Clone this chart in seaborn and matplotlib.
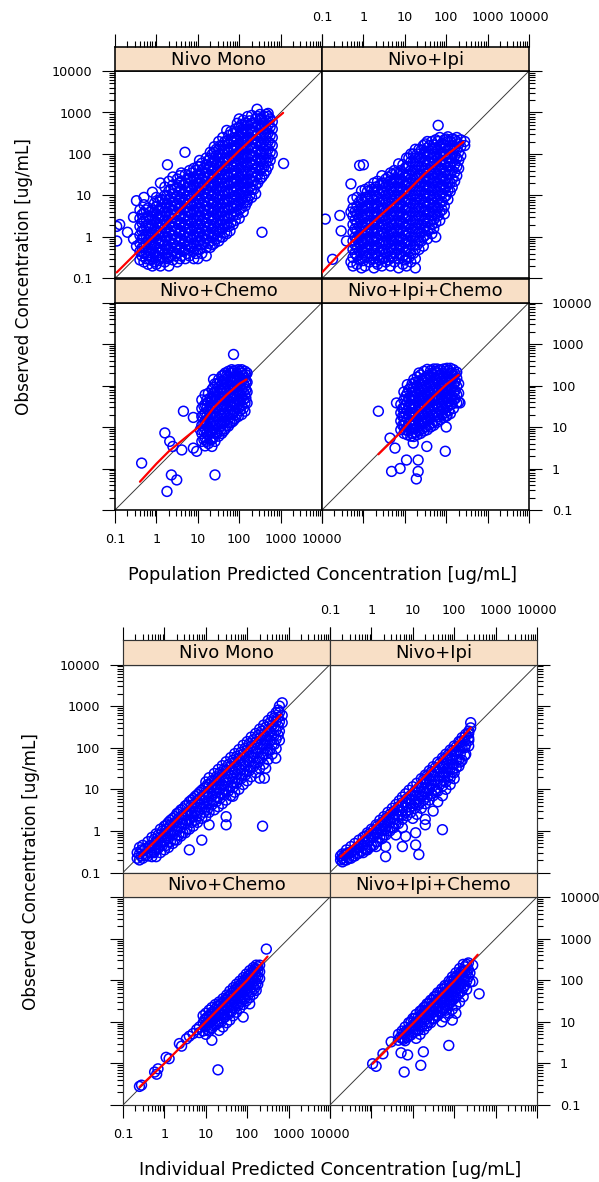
import numpy as np
import pandas as pd
import matplotlib
matplotlib.use("Agg")
import matplotlib.pyplot as plt
import matplotlib.ticker as mticker
import seaborn as sns

# ---------------- data ----------------
TICK_VALUES = [0.1, 1, 10, 100, 1000, 10000]
TICK_LABELS = ["0.1", "1", "10", "100", "1000", "10000"]
PANEL_TITLES = ["Nivo Mono", "Nivo+Ipi", "Nivo+Chemo", "Nivo+Ipi+Chemo"]
XLABELS = ["Population Predicted Concentration [ug/mL]",
           "Individual Predicted Concentration [ug/mL]"]
YLABEL = "Observed Concentration [ug/mL]"
IDENTITY = [0.1, 10000]

# each entry: (predicted, [observed values at that predicted value])
POP_MONO = [
    (0.11, [0.8, 1.8]), (0.13, [2.0]), (0.2, [1.3]), (0.28, [3.0, 0.9]), (0.33, [7.5, 0.6]),
    (0.4, [0.28, 0.45, 0.7, 1.1, 1.8, 2.8, 4.5]),
    (0.5, [0.25, 0.4, 0.6, 1.0, 1.5, 2.4, 3.8, 6.0, 9.0]),
    (0.63, [0.22, 0.35, 0.55, 0.85, 1.3, 2.0, 3.2, 5.0]),
    (0.8, [0.2, 0.3, 0.5, 0.75, 1.2, 1.9, 3.0, 4.5, 12]),
    (1.0, [0.22, 0.35, 0.55, 0.9, 1.4, 2.2, 3.5, 5.5, 9.0]),
    (1.25, [0.2, 0.3, 0.5, 0.8, 1.3, 2.0, 3.2, 5.0, 8.0, 20]),
    (1.6, [0.25, 0.4, 0.65, 1.0, 1.6, 2.5, 4.0, 6.5, 10, 16]),
    (1.85, [0.3, 0.5, 55]),
    (2.0, [0.2, 0.32, 0.5, 0.8, 1.3, 2.0, 3.2, 5.0, 8.0, 13, 22]),
    (2.5, [0.28, 0.45, 0.7, 1.1, 1.8, 2.8, 4.5, 7.0, 11, 18, 28]),
    (3.2, [0.25, 0.4, 0.6, 1.0, 1.6, 2.5, 4.0, 6.5, 10, 16, 25]),
    (3.7, [0.3, 30]),
    (4.0, [0.35, 0.55, 0.9, 1.4, 2.2, 3.5, 5.5, 9.0, 14, 22, 35]),
    (4.9, [110]),
    (5.0, [0.3, 0.5, 0.8, 1.3, 2.0, 3.2, 5.0, 8.0, 13, 20, 32]),
    (6.3, [0.35, 0.6, 1.0, 1.6, 2.5, 4.0, 6.3, 10, 16, 25, 40]),
    (8.0, [0.3, 0.45, 0.7, 1.1, 1.8, 2.8, 4.5, 7.0, 11, 18, 28, 45]),
    (10, [0.3, 0.5, 0.8, 1.3, 2.0, 3.2, 5.0, 8.0, 13, 20, 32, 50]),
    (11, [70]),
    (12.5, [0.4, 0.65, 1.0, 1.6, 2.5, 4.0, 6.5, 10, 16, 25, 40, 60]),
    (16, [0.35, 0.55, 0.9, 1.4, 2.2, 3.5, 5.5, 9.0, 14, 22, 35, 55, 80]),
    (20, [0.56, 0.8, 1.3, 2.0, 3.2, 5.0, 8.0, 13, 20, 32, 50, 80, 110]),
    (25, [0.7, 1.1, 1.8, 2.8, 4.5, 7.0, 11, 18, 28, 45, 70, 110, 150]),
    (32, [0.8, 1.3, 2.0, 3.2, 5.0, 8.0, 13, 20, 32, 50, 80, 130, 200]),
    (40, [1.0, 1.6, 2.5, 4.0, 6.5, 10, 16, 25, 40, 65, 100, 160, 250]),
    (50, [1.2, 2.0, 3.2, 5.0, 8.0, 13, 20, 32, 50, 80, 130, 200, 370]),
    (60, [1.4]),
    (63, [2.2, 3.5, 5.5, 9.0, 14, 22, 35, 55, 90, 140, 220, 350]),
    (80, [2.5, 4.0, 6.5, 10, 16, 25, 40, 65, 100, 160, 250, 400]),
    (100, [2.8, 4.5, 7.0, 11, 18, 28, 45, 70, 110, 180, 280, 450, 700]),
    (125, [4.0, 6.5, 10, 16, 25, 40, 65, 100, 160, 250, 400, 650]),
    (155, [6.9]),
    (160, [8.0, 13, 20, 32, 50, 80, 130, 200, 320, 500, 800]),
    (200, [9.0, 14, 22, 35, 55, 90, 140, 220, 350, 550, 850]),
    (250, [11, 18, 28, 45, 70, 110, 180, 280, 450, 700]),
    (270, [1200]),
    (320, [25, 40, 65, 100, 160, 250, 400, 650, 900]),
    (355, [1.3]),
    (400, [33, 50, 80, 130, 200, 320, 500, 800]),
    (500, [50, 80, 130, 200, 320, 500, 800, 950]),
    (630, [100, 160, 250, 400, 600]),
    (1180, [59]),
]
POP_MONO_CORE = [
    (0.45, [0.35, 0.55, 0.9, 1.4, 2.2, 3.5]),
    (0.56, [0.3, 0.45, 0.7, 1.1, 1.8, 2.8, 4.5]),
    (0.71, [0.28, 0.42, 0.65, 1.0, 1.6, 2.6, 4.0]),
    (0.9, [0.25, 0.4, 0.62, 1.0, 1.6, 2.5, 4.0, 6.5]),
    (1.12, [0.27, 0.42, 0.7, 1.1, 1.75, 2.8, 4.4, 7.0]),
    (1.4, [0.32, 0.5, 0.8, 1.25, 2.0, 3.2, 5.0, 8.0]),
    (1.8, [0.4, 0.62, 1.0, 1.6, 2.5, 4.0, 6.3, 10]),
    (2.24, [0.36, 0.56, 0.9, 1.4, 2.2, 3.6, 5.6, 9.0, 14]),
    (2.8, [0.35, 0.55, 0.88, 1.4, 2.2, 3.5, 5.6, 9.0, 14]),
    (3.5, [0.5, 0.8, 1.25, 2.0, 3.2, 5.0, 8.0, 12.5, 20]),
    (4.5, [0.45, 0.7, 1.1, 1.8, 2.8, 4.5, 7.0, 11, 18]),
    (5.6, [0.4, 0.65, 1.0, 1.6, 2.6, 4.1, 6.5, 10, 16, 26]),
    (7.1, [0.55, 0.88, 1.4, 2.2, 3.5, 5.6, 9.0, 14, 22, 35]),
    (9.0, [0.4, 0.62, 1.0, 1.6, 2.5, 4.0, 6.3, 10, 16, 25, 40]),
    (11.2, [0.5, 0.8, 1.25, 2.0, 3.2, 5.0, 8.0, 12.5, 20, 32, 50]),
    (14, [0.7, 1.1, 1.8, 2.8, 4.5, 7.0, 11, 18, 28, 45]),
    (18, [0.7, 1.1, 1.75, 2.8, 4.4, 7.0, 11, 17.5, 28, 44, 70]),
    (22.4, [0.65, 1.0, 1.6, 2.6, 4.1, 6.5, 10, 16, 26, 41, 65, 100]),
    (28, [0.9, 1.4, 2.2, 3.6, 5.6, 9.0, 14, 22, 36, 56, 90, 130]),
    (35, [1.0, 1.6, 2.5, 4.0, 6.3, 10, 16, 25, 40, 63, 100, 160]),
    (45, [1.3, 2.0, 3.2, 5.0, 8.0, 12.5, 20, 32, 50, 80, 125, 200]),
    (56, [1.8, 2.8, 4.5, 7.0, 11, 18, 28, 45, 70, 110, 180, 280]),
    (71, [2.0, 3.2, 5.0, 8.0, 12.5, 20, 32, 50, 80, 125, 200, 320]),
    (90, [3.5, 5.6, 9.0, 14, 22, 35, 56, 90, 140, 220, 350, 550]),
    (112, [5.0, 8.0, 12.5, 20, 32, 50, 80, 125, 200, 320, 500]),
    (140, [5.6, 9.0, 14, 22, 36, 56, 90, 140, 220, 360, 560]),
    (180, [10, 16, 25, 40, 63, 100, 160, 250, 400, 630]),
    (224, [14, 22, 36, 56, 90, 140, 220, 360, 560]),
    (280, [20, 32, 50, 80, 125, 200, 320, 500, 800]),
    (355, [28, 45, 70, 110, 180, 280, 450, 700]),
    (450, [40, 63, 100, 160, 250, 400, 630, 900]),
    (560, [70, 110, 180, 280, 450, 700]),
]
POP_MONO_FIT_X = [0.11, 0.3, 1, 3, 10, 30, 100, 300, 1000, 1150]
POP_MONO_FIT_Y = [0.14, 0.38, 1.2, 3.6, 12, 37, 120, 330, 870, 980]

POP_IPI = [
    (0.12, [2.7]), (0.18, [0.29]), (0.27, [3.3]), (0.29, [1.4]), (0.39, [0.8]),
    (0.5, [0.25, 4.0, 19]),
    (0.56, [0.2, 0.32, 0.5, 0.8, 1.3, 2.0, 3.2, 5.0, 8.0]),
    (0.7, [0.22, 0.35, 0.55, 0.9, 1.4, 2.2, 3.5, 5.5, 9.0]),
    (0.81, [53]),
    (0.9, [0.18, 0.3, 0.5, 0.8, 1.3, 2.0, 3.2, 5.0, 8.0, 13]),
    (1.0, [55]),
    (1.1, [0.2, 0.35, 0.55, 0.9, 1.4, 2.2, 3.5, 5.5, 9.0, 14]),
    (1.4, [0.25, 0.4, 0.65, 1.0, 1.6, 2.5, 4.0, 6.5, 10, 16]),
    (1.8, [0.18, 0.3, 0.5, 0.8, 1.3, 2.0, 3.2, 5.0, 8.0, 13, 20]),
    (2.2, [0.22, 0.35, 0.55, 0.9, 1.4, 2.2, 3.5, 5.5, 9.0, 14, 22]),
    (2.8, [0.2, 0.3, 0.5, 0.8, 1.3, 2.0, 3.2, 5.0, 8.0, 13, 20, 30]),
    (3.5, [0.25, 0.4, 0.65, 1.0, 1.6, 2.5, 4.0, 6.5, 10, 16, 25]),
    (4.5, [0.2, 0.35, 0.55, 0.9, 1.4, 2.2, 3.5, 5.5, 9.0, 14, 22, 35]),
    (5.6, [0.25, 0.4, 0.65, 1.0, 1.6, 2.5, 4.0, 6.5, 10, 16, 25, 40]),
    (7.1, [0.18, 0.3, 0.5, 0.8, 1.3, 2.0, 3.2, 5.0, 8.0, 13, 20, 32, 58]),
    (9.0, [0.22, 0.35, 0.55, 0.9, 1.4, 2.2, 3.5, 5.5, 9.0, 14, 22, 35, 55]),
    (11, [0.2, 0.3, 0.5, 0.8, 1.3, 2.0, 3.2, 5.0, 8.0, 13, 20, 32, 50, 80]),
    (14, [0.25, 0.4, 0.65, 1.0, 1.6, 2.5, 4.0, 6.5, 10, 16, 25, 40, 65, 100]),
    (18, [0.18, 0.3, 0.5, 0.8, 1.3, 2.0, 3.2, 5.0, 8.0, 13, 20, 32, 50, 80, 130]),
    (22, [0.5, 0.8, 1.3, 2.0, 3.2, 5.0, 8.0, 13, 20, 32, 50, 80, 130]),
    (28, [0.6, 1.0, 1.6, 2.5, 4.0, 6.5, 10, 16, 25, 40, 65, 100, 160]),
    (35, [0.9, 1.4, 2.2, 3.5, 5.5, 9.0, 14, 22, 35, 55, 90, 140, 200]),
    (45, [1.2, 2.0, 3.2, 5.0, 8.0, 13, 20, 32, 50, 80, 130, 200]),
    (56, [1.0, 2.2, 3.5, 5.5, 9.0, 14, 22, 35, 55, 90, 140, 220]),
    (64, [490]),
    (70, [2.5, 4.0, 6.5, 10, 16, 25, 40, 65, 100, 160, 250]),
    (90, [3.6, 5.5, 9.0, 14, 22, 35, 55, 90, 140, 220]),
    (110, [8.0, 13, 20, 32, 50, 80, 130, 200, 260]),
    (140, [16, 25, 40, 65, 100, 160, 230]),
    (180, [30, 50, 80, 130, 200, 250]),
    (225, [90, 150, 220]),
    (280, [160, 200]),
]
POP_IPI_CORE = [
    (0.63, [0.4, 0.65, 1.0, 1.6, 2.6, 4.1]),
    (0.8, [0.28, 0.45, 0.7, 1.1, 1.8, 2.8, 4.5, 7.0]),
    (1.0, [0.27, 0.42, 0.7, 1.1, 1.75, 2.8, 4.4, 7.0]),
    (1.25, [0.32, 0.5, 0.8, 1.25, 2.0, 3.2, 5.0, 8.0, 12.5]),
    (1.6, [0.36, 0.56, 0.9, 1.4, 2.2, 3.6, 5.6, 9.0, 14]),
    (2.0, [0.25, 0.4, 0.62, 1.0, 1.6, 2.5, 4.0, 6.3, 10, 16]),
    (2.5, [0.28, 0.45, 0.7, 1.1, 1.8, 2.8, 4.5, 7.0, 11, 18]),
    (3.2, [0.32, 0.5, 0.8, 1.25, 2.0, 3.2, 5.0, 8.0, 12.5, 20]),
    (4.0, [0.28, 0.45, 0.7, 1.1, 1.75, 2.8, 4.4, 7.0, 11, 17.5, 28]),
    (5.0, [0.32, 0.5, 0.8, 1.25, 2.0, 3.2, 5.0, 8.0, 12.5, 20, 32]),
    (6.3, [0.36, 0.56, 0.9, 1.4, 2.2, 3.6, 5.6, 9.0, 14, 22, 36]),
    (8.0, [0.4, 0.63, 1.0, 1.6, 2.5, 4.0, 6.3, 10, 16, 25, 40]),
    (10, [0.28, 0.45, 0.7, 1.1, 1.8, 2.8, 4.5, 7.0, 11, 18, 28, 45]),
    (12.5, [0.32, 0.5, 0.8, 1.25, 2.0, 3.2, 5.0, 8.0, 12.5, 20, 32, 50, 80]),
    (16, [0.4, 0.63, 1.0, 1.6, 2.5, 4.0, 6.3, 10, 16, 25, 40, 63, 100]),
    (20, [0.65, 1.0, 1.6, 2.6, 4.1, 6.5, 10, 16, 26, 41, 65, 100]),
    (25, [0.8, 1.25, 2.0, 3.2, 5.0, 8.0, 12.5, 20, 32, 50, 80, 125]),
    (31, [1.1, 1.8, 2.8, 4.5, 7.0, 11, 18, 28, 45, 70, 110, 175]),
    (40, [1.6, 2.5, 4.0, 6.3, 10, 16, 25, 40, 63, 100, 160]),
    (50, [1.6, 2.6, 4.1, 6.5, 10, 16, 26, 41, 65, 100, 165]),
    (63, [3.2, 5.0, 8.0, 12.5, 20, 32, 50, 80, 125, 200]),
    (80, [4.5, 7.0, 11, 18, 28, 45, 70, 110, 180]),
    (100, [10, 16, 25, 40, 63, 100, 160, 230]),
    (125, [12.5, 20, 32, 50, 80, 125, 200]),
    (160, [22, 36, 56, 90, 140, 220]),
    (200, [45, 70, 110, 175]),
]
POP_IPI_FIT_X = [0.1, 0.3, 1, 3, 10, 30, 100, 260]
POP_IPI_FIT_Y = [0.14, 0.45, 1.4, 3.8, 11, 33, 93, 195]

POP_CHEMO = [
    (0.44, [1.35]), (1.6, [7.2]), (1.8, [0.28]), (2.1, [4.5]), (2.3, [0.7]),
    (2.5, [3.4]), (3.1, [0.53]), (4.1, [2.8]), (4.5, [24]), (7.8, [17, 3.1]),
    (9.4, [2.6]), (11.5, [8.6]),
    (12.5, [4.5, 7.0, 11, 18, 28, 45]),
    (15, [3.5, 5.5, 9.0, 14, 22, 35, 60]),
    (18, [4.0, 6.5, 10, 16, 25, 40, 65]),
    (22, [3.4, 5.0, 8.0, 13, 20, 32, 50, 80]),
    (24, [140]),
    (26, [0.7, 4.5, 7.0, 11, 18, 28, 45, 70, 110]),
    (32, [6.0, 9.0, 14, 22, 35, 55, 90, 140]),
    (38, [7.0, 11, 18, 28, 45, 70, 110, 170]),
    (46, [9.0, 14, 22, 35, 55, 90, 140, 200]),
    (55, [10.5, 16, 25, 40, 65, 100, 160, 220]),
    (66, [13, 20, 32, 50, 80, 130, 200, 240]),
    (73, [560]),
    (80, [16, 25, 40, 65, 100, 160, 230]),
    (95, [18, 28, 45, 70, 110, 170, 240]),
    (115, [20, 32, 50, 80, 130, 200, 240]),
    (138, [24, 38, 60, 95, 150, 220]),
    (155, [38, 70, 120, 200]),
]
POP_CHEMO_CORE = [
    (14, [5.0, 8.0, 12.5, 20, 32]),
    (16.5, [4.5, 7.0, 11, 18, 28, 45]),
    (20, [5.0, 8.0, 12.5, 20, 32, 50]),
    (24, [5.6, 9.0, 14, 22, 36, 56, 90]),
    (29, [7.0, 11, 18, 28, 45, 70, 110]),
    (35, [8.0, 12.5, 20, 32, 50, 80, 125]),
    (42, [8.0, 12.5, 20, 32, 50, 80, 125, 180]),
    (50, [11, 18, 28, 45, 70, 110, 175]),
    (60, [12.5, 20, 32, 50, 80, 125, 200]),
    (72, [14, 22, 36, 56, 90, 140, 220]),
    (87, [20, 32, 50, 80, 125, 200]),
    (105, [25, 40, 63, 100, 160, 220]),
    (126, [28, 45, 70, 110, 175]),
    (145, [50, 80, 125, 180]),
]
POP_CHEMO_FIT_X = [0.4, 1, 2, 5, 11, 24, 50, 100, 150]
POP_CHEMO_FIT_Y = [0.48, 1.3, 2.6, 5.5, 10.4, 29, 60, 110, 140]

POP_IPI_CHEMO = [
    (2.3, [24]), (4.4, [5.4]), (4.8, [0.85]), (5.8, [3.1]), (6.3, [38]),
    (7.7, [1.0]), (11, [1.6]), (16, [4.1]), (19, [0.56]), (21, [1.6, 0.85]),
    (34, [3.4]), (95, [2.6]), (215, [38]),
    (8.0, [8.6, 14, 22, 35]),
    (9.5, [7.0, 11, 18, 28, 45, 70]),
    (11.5, [6.5, 10, 16, 25, 40, 65, 105]),
    (14, [6.0, 9.0, 14, 22, 35, 55, 90]),
    (16.5, [5.9, 9.0, 14, 22, 35, 55, 90, 140]),
    (20, [6.5, 10, 16, 25, 40, 65, 100, 160]),
    (24, [7.0, 11, 18, 28, 45, 70, 110, 180]),
    (29, [8.0, 13, 20, 32, 50, 80, 130, 220]),
    (35, [8.6, 14, 22, 35, 55, 90, 140, 245]),
    (42, [10, 16, 25, 40, 65, 100, 160, 230]),
    (50, [11, 18, 28, 45, 70, 110, 180, 250]),
    (60, [13, 20, 32, 50, 80, 130, 200, 250]),
    (72, [15, 24, 38, 60, 95, 150, 240]),
    (87, [17, 27, 42, 65, 100, 160, 250]),
    (100, [10, 18]),
    (105, [19, 30, 48, 75, 120, 190, 260]),
    (126, [21, 34, 55, 85, 130, 200, 260]),
    (150, [28, 45, 70, 110, 170, 240]),
    (180, [38, 60, 95, 150, 210]),
    (200, [40, 65, 110]),
]
POP_IPI_CHEMO_CORE = [
    (8.8, [11, 18, 28]),
    (10.5, [8.5, 13, 21, 34, 55]),
    (12.5, [8.0, 12.5, 20, 32, 50, 80]),
    (15, [7.0, 11, 18, 28, 45, 70, 110]),
    (18, [7.5, 12, 19, 30, 48, 75, 120]),
    (22, [8.0, 12.5, 20, 32, 50, 80, 125, 200]),
    (26, [9.0, 14, 22, 36, 56, 90, 140]),
    (32, [10, 16, 25, 40, 63, 100, 160]),
    (38, [11, 18, 28, 45, 70, 110, 180]),
    (46, [12.5, 20, 32, 50, 80, 125, 200]),
    (55, [14, 22, 36, 56, 90, 140, 220]),
    (66, [18, 28, 45, 70, 110, 175]),
    (80, [20, 32, 50, 80, 125, 200]),
    (95, [22, 36, 56, 90, 140, 220]),
    (115, [25, 40, 63, 100, 160, 230]),
    (138, [36, 56, 90, 140, 200]),
    (165, [48, 75, 120, 190]),
]
POP_IPI_CHEMO_FIT_X = [2.3, 7.7, 19, 50, 100, 200]
POP_IPI_CHEMO_FIT_Y = [2.2, 7.2, 21, 55, 105, 180]

IND_MONO = [
    (0.22, [0.22, 0.3]), (0.25, [0.2, 0.28, 0.4]), (0.3, [0.22, 0.33, 0.45]),
    (0.4, [0.25, 0.38, 0.55]), (0.5, [0.24, 0.3, 0.45, 0.7]),
    (0.63, [0.24, 0.35, 0.55, 0.85]), (0.8, [0.3, 0.45, 0.7, 1.1]),
    (1.0, [0.35, 0.55, 0.85, 1.3]), (1.25, [0.4, 0.65, 1.0, 1.6]),
    (1.6, [0.5, 0.8, 1.3, 2.0]), (2.0, [0.6, 1.0, 1.6, 2.6]),
    (2.5, [0.75, 1.2, 1.9, 3.2]), (3.2, [0.9, 1.5, 2.4, 4.0]),
    (4.0, [0.35, 1.1, 1.8, 3.0, 5.0]), (5.0, [1.3, 2.2, 3.6, 6.0]),
    (6.3, [1.6, 2.7, 4.5, 7.5]), (8.0, [0.6, 2.0, 3.4, 5.6, 9.5]),
    (10, [2.2, 3.8, 6.5, 11, 15]), (12, [1.4, 2.8, 4.8, 8.0, 13, 19]),
    (16, [3.2, 5.5, 9.5, 16, 24]), (20, [3.8, 6.5, 11, 19, 30]),
    (25, [4.5, 8.0, 13, 23, 37]), (31, [1.4, 2.2, 5.5, 10, 17, 29, 46]),
    (40, [7.0, 12, 21, 36, 58]), (45, [6.8]),
    (50, [8.5, 15, 26, 45, 72]), (63, [10, 18, 32, 55, 90]),
    (80, [13, 23, 40, 70, 115]), (100, [16, 28, 50, 88, 140]),
    (125, [20, 35, 62, 110, 180]), (160, [25, 44, 78, 135, 220]),
    (200, [18.5, 32, 56, 98, 170, 280]), (235, [1.3]),
    (250, [40, 70, 120, 210, 350]), (260, [18.5]), (280, [32]),
    (320, [52, 90, 155, 270, 450]), (400, [70, 120, 200, 340, 560]),
    (490, [56]), (500, [95, 160, 260, 430, 700]),
    (600, [150, 250, 420, 700, 1000]), (700, [400, 600, 1200]),
]
IND_MONO_CORE = [
    (0.28, [0.25, 0.35]), (0.35, [0.26, 0.38]), (0.45, [0.3, 0.45]),
    (0.56, [0.3, 0.45, 0.62]), (0.71, [0.38, 0.56, 0.8]), (0.9, [0.45, 0.7, 1.0]),
    (1.12, [0.45, 0.7, 1.1, 1.4]), (1.4, [0.55, 0.9, 1.4, 1.8]),
    (1.8, [0.62, 1.0, 1.6, 2.2]), (2.24, [0.8, 1.25, 2.0, 2.8]),
    (2.8, [0.9, 1.5, 2.4, 3.4]), (3.5, [1.1, 1.8, 2.8, 4.2]),
    (4.5, [1.6, 2.6, 4.1, 5.5]), (5.6, [1.8, 2.9, 4.6, 6.8]),
    (7.1, [2.3, 3.7, 5.9, 8.5]), (9.0, [2.8, 4.5, 7.2, 10.5]),
    (11, [3.3, 5.3, 8.5, 13]), (14, [4.2, 6.8, 11, 16]),
    (18, [5.0, 8.2, 13, 20]), (22, [6.0, 10, 16, 25]),
    (28, [7.5, 12, 19, 31]), (35, [9.0, 15, 24, 39]),
    (45, [11, 18, 30, 50]), (56, [14, 23, 38, 62]),
    (71, [18, 29, 48, 78]), (90, [22, 36, 60, 98]),
    (112, [28, 46, 75, 125]), (140, [35, 58, 95, 155]),
    (180, [45, 75, 120, 195]), (224, [58, 95, 155, 250]),
    (280, [70, 120, 190, 310]), (355, [90, 150, 240, 400]),
    (450, [120, 200, 320, 520]), (560, [200, 330, 540, 800]),
]
IND_MONO_FIT_X = [0.25, 1, 10, 100, 650]
IND_MONO_FIT_Y = [0.24, 0.95, 9.5, 92, 620]

IND_IPI = [
    (0.18, [0.2, 0.25]), (0.2, [0.18, 0.22, 0.28]), (0.25, [0.2, 0.28, 0.35]),
    (0.32, [0.22, 0.3, 0.42]), (0.4, [0.25, 0.35, 0.5]), (0.5, [0.29, 0.4, 0.6]),
    (0.63, [0.3, 0.45, 0.7]), (0.73, [0.35]), (0.8, [0.35, 0.55, 0.9]),
    (1.0, [0.45, 0.7, 1.1]), (1.3, [0.42, 0.55, 0.9, 1.4]), (1.6, [0.7, 1.1, 1.8]),
    (2.0, [0.8, 1.4, 2.2]), (2.2, [0.24, 0.42, 1.1]), (2.5, [1.0, 1.7, 2.8]),
    (3.2, [1.2, 2.1, 3.5]), (3.9, [0.8, 1.5, 2.6, 4.3]), (4.7, [2.2, 3.2, 5.3]),
    (5.6, [0.42, 1.2, 2.4, 4.0, 6.5]), (6.7, [0.74, 2.8, 4.8, 7.8]),
    (8.1, [3.2, 5.6, 9.5]), (10, [2.0, 4.0, 7.0, 11.5]), (11.7, [0.46, 0.9]),
    (12.5, [2.5, 5.0, 8.5, 14]), (14, [0.27, 4.7]), (16, [3.5, 6.5, 11, 18]),
    (20, [1.4, 1.9, 4.5, 8.0, 14, 22]), (25, [5.5, 10, 17, 28]),
    (31, [3.0, 7.0, 12, 21, 35]), (36, [9.0]), (40, [5.0, 9.0, 16, 27, 45]),
    (52, [1.07, 7.0, 12, 20, 34, 57]), (63, [10, 15, 26, 43, 70]),
    (80, [13, 19, 32, 54, 88]), (100, [18, 25, 40, 68, 110]),
    (130, [36, 52, 85, 140]), (155, [50, 100, 175]), (190, [70, 120, 210]),
    (225, [150, 250]), (250, [300, 400]),
]
IND_IPI_CORE = [
    (0.22, [0.2, 0.26]), (0.28, [0.22, 0.3]), (0.36, [0.25, 0.33]),
    (0.45, [0.28, 0.4]), (0.56, [0.32, 0.48]), (0.71, [0.38, 0.55, 0.75]),
    (0.9, [0.4, 0.6, 0.85]), (1.12, [0.45, 0.7, 1.05]), (1.4, [0.55, 0.85, 1.3]),
    (1.8, [0.65, 1.0, 1.6]), (2.24, [0.8, 1.25, 2.0]), (2.8, [1.0, 1.6, 2.5]),
    (3.5, [1.2, 1.9, 3.0]), (4.5, [1.5, 2.4, 3.8]), (5.6, [1.9, 3.0, 4.8]),
    (7.1, [2.3, 3.7, 5.9]), (9.0, [2.8, 4.5, 7.2]), (11.2, [3.5, 5.6, 9.0]),
    (14, [4.3, 7.0, 11]), (18, [5.4, 8.8, 14, 17]), (22, [6.5, 10.5, 17, 21]),
    (28, [8.0, 13, 21, 26]), (35, [10, 16, 26, 33]), (45, [13, 20, 32, 42]),
    (56, [16, 25, 40, 52]), (71, [20, 32, 50, 66]), (90, [26, 40, 63, 85]),
    (112, [33, 50, 80, 105]), (140, [45, 70, 110, 135]),
    (180, [65, 100, 150, 180]), (224, [110, 170, 220]),
]
IND_IPI_FIT_X = [0.18, 1, 10, 100, 250]
IND_IPI_FIT_Y = [0.24, 1.1, 10.5, 110, 300]

IND_CHEMO = [
    (0.25, [0.28]), (0.28, [0.3]), (0.58, [0.62]), (0.65, [0.55]), (0.7, [0.74]),
    (1.1, [1.4]), (1.3, [1.3]), (2.3, [3.0]), (2.6, [2.6]), (3.4, [3.9]),
    (4.0, [4.5]), (4.9, [5.2]), (6.0, [6.5]), (19.7, [0.7]), (290, [560]),
    (7.0, [5.5, 7.5]), (8.6, [6.0, 9.5, 14]), (10, [5.0, 8.0, 12, 16]),
    (12, [6.0, 9.5, 14, 19]), (14, [3.6, 7.0, 11, 17, 22]), (17, [8.5, 13, 20, 26]),
    (21, [6.2, 10, 16, 24, 30]), (26, [7.5, 12, 19, 29, 36]),
    (32, [9.5, 15, 23, 35, 44]), (38, [11, 18, 28, 42, 55]),
    (46, [14, 22, 34, 52, 66]), (55, [17, 27, 42, 63, 80]),
    (66, [21, 33, 50, 76, 95]), (70, [38]), (80, [13, 26, 40, 60, 92, 115]),
    (95, [32, 48, 72, 110, 140]), (115, [27, 38, 58, 88, 135, 170]),
    (140, [46, 70, 105, 160, 200]), (165, [57, 85, 130, 190, 230]),
    (200, [110, 160, 230]),
]
IND_CHEMO_CORE = [
    (9.3, [7.5, 11]), (11, [6.5, 9.5, 13]), (13, [7.0, 10.5, 15]),
    (15.5, [8.0, 12, 17]), (19, [9.0, 14, 19, 24]), (23.5, [10, 15, 21, 27]),
    (29, [13, 19, 26, 33]), (35, [15, 22, 31, 40]), (42, [18, 26, 37, 48]),
    (50, [21, 31, 45, 58]), (60, [25, 37, 55, 70]), (73, [30, 45, 66, 85]),
    (87, [36, 54, 80, 100]), (105, [44, 66, 96, 125]), (127, [53, 80, 115, 150]),
    (150, [63, 95, 140, 180]), (180, [80, 120, 170, 210]),
]
IND_CHEMO_FIT_X = [0.25, 1, 10, 100, 310]
IND_CHEMO_FIT_Y = [0.27, 1.0, 10, 100, 370]

IND_IPI_CHEMO = [
    (1.07, [0.98]), (1.3, [0.85]), (1.9, [1.7]), (3.0, [3.3]), (5.2, [1.8]),
    (7.5, [1.6]), (6.2, [0.62]), (15.6, [0.9]), (18, [1.9]), (74, [2.7]),
    (400, [47]), (280, [93, 230]), (63, [19]),
    (4.5, [3.6, 5.0]), (5.5, [4.0, 6.0]), (6.5, [3.5, 5.0, 7.5]),
    (8.0, [4.5, 6.5, 9.5]), (10, [5.5, 8.0, 12]), (12, [4.0, 6.5, 10, 15]),
    (15, [5.0, 8.0, 12, 18]), (18.5, [6.5, 10, 15, 22]), (22, [8.0, 12, 18, 27]),
    (27, [9.5, 15, 23, 33]), (33, [12, 18, 28, 40]), (40, [14, 22, 34, 50]),
    (50, [10, 18, 28, 42, 62]), (60, [13, 22, 34, 52, 75]),
    (75, [16, 27, 42, 65, 95]), (90, [11, 20, 33, 52, 80, 120]),
    (110, [16, 25, 40, 64, 100, 150]), (135, [30, 50, 80, 125, 190]),
    (165, [40, 65, 100, 160, 240]), (200, [60, 95, 150, 240]), (240, [90, 150]),
]
IND_IPI_CHEMO_CORE = [
    (5.0, [4.2]), (6.0, [3.8, 5.4]), (7.2, [4.2, 6.3]), (9.0, [4.8, 7.2, 10]),
    (11, [5.8, 8.5, 12]), (13.5, [6.2, 9.0, 13]), (16.5, [7.5, 11, 15, 19]),
    (20, [9.0, 13, 18, 23]), (24.5, [10, 14, 20, 28]), (30, [12, 17, 24, 34]),
    (36.5, [14, 20, 29, 42]), (45, [17, 24, 35, 50]), (55, [20, 29, 43, 60]),
    (67, [24, 35, 52, 73]), (82, [29, 43, 63, 90]), (100, [36, 52, 78, 110]),
    (122, [44, 64, 95, 135]), (150, [55, 80, 118, 165]),
    (180, [75, 110, 160, 210]), (220, [120, 180, 260]),
]
IND_IPI_CHEMO_FIT_X = [1.07, 10, 100, 370]
IND_IPI_CHEMO_FIT_Y = [0.98, 9, 95, 410]


def to_frame(columns):
    rows = [(x, y) for x, ys in columns for y in ys]
    return pd.DataFrame(rows, columns=["pred", "obs"])


BLOCK_DATA = [
    [(POP_MONO + POP_MONO_CORE, POP_MONO_FIT_X, POP_MONO_FIT_Y),
     (POP_IPI + POP_IPI_CORE, POP_IPI_FIT_X, POP_IPI_FIT_Y),
     (POP_CHEMO + POP_CHEMO_CORE, POP_CHEMO_FIT_X, POP_CHEMO_FIT_Y),
     (POP_IPI_CHEMO + POP_IPI_CHEMO_CORE, POP_IPI_CHEMO_FIT_X, POP_IPI_CHEMO_FIT_Y)],
    [(IND_MONO + IND_MONO_CORE, IND_MONO_FIT_X, IND_MONO_FIT_Y),
     (IND_IPI + IND_IPI_CORE, IND_IPI_FIT_X, IND_IPI_FIT_Y),
     (IND_CHEMO + IND_CHEMO_CORE, IND_CHEMO_FIT_X, IND_CHEMO_FIT_Y),
     (IND_IPI_CHEMO + IND_IPI_CHEMO_CORE, IND_IPI_CHEMO_FIT_X, IND_IPI_CHEMO_FIT_Y)],
]

# ---------------- style / layout ----------------
sns.set_style("white")
plt.rcParams["font.family"] = ["DejaVu Sans"]

W, H = 599, 1182
fig = plt.figure(figsize=(W / 100, H / 100), dpi=100)
fig.patch.set_facecolor("white")

STRIP_COLOR = "#F8DFC6"
LAYOUT = [
    dict(cols=[115, 322], width=207, strip_tops=[47, 278.5], strip_h=24, panel_h=207.5,
         xlabel_xy=(322, 575), ylabel_xy=(24, 277), frame="black", frame_lw=1.15),
    dict(cols=[123, 330], width=207, strip_tops=[640, 872.5], strip_h=24.5, panel_h=208,
         xlabel_xy=(330, 1170), ylabel_xy=(31, 872), frame="#333333", frame_lw=0.85),
]


def px_axes(left, top, width, height):
    return fig.add_axes([left / W, 1 - (top + height) / H, width / W, height / H])


def log_axis(axis):
    axis.set_major_locator(mticker.FixedLocator(TICK_VALUES))
    axis.set_major_formatter(mticker.FixedFormatter(TICK_LABELS))
    axis.set_minor_locator(mticker.LogLocator(base=10, subs=np.arange(2, 10), numticks=100))
    axis.set_minor_formatter(mticker.NullFormatter())


def base_ticks(ax):
    ax.tick_params(which="both", direction="out", width=0.8, color="black",
                   labelsize=9.2, labelcolor="black", pad=7)
    ax.tick_params(which="major", length=9.4)
    ax.tick_params(which="minor", length=4.6)


for b, (lay, panels) in enumerate(zip(LAYOUT, BLOCK_DATA)):
    for i, (cols, fx, fy) in enumerate(panels):
        r, c = divmod(i, 2)
        left = lay["cols"][c]
        stop = lay["strip_tops"][r]
        ptop = stop + lay["strip_h"]

        # panel
        ax = px_axes(left, ptop, lay["width"], lay["panel_h"])
        ax.set_xscale("log")
        ax.set_yscale("log")
        ax.set_xlim(0.1, 10000)
        ax.set_ylim(0.1, 10000)
        ax.plot(IDENTITY, IDENTITY, color="#3a3a3a", lw=0.7, zorder=1)
        df = to_frame(cols)
        sns.scatterplot(data=df, x="pred", y="obs", ax=ax, marker="o", s=50,
                        facecolors="none", edgecolor="#0000FF", linewidth=1.1,
                        legend=False, zorder=2)
        sns.lineplot(x=fx, y=fy, ax=ax, color="red", lw=1.6, sort=False,
                     estimator=None, zorder=3)
        ax.set_xlim(0.1, 10000)
        ax.set_ylim(0.1, 10000)
        log_axis(ax.xaxis)
        log_axis(ax.yaxis)
        ax.set_xlabel("")
        ax.set_ylabel("")
        base_ticks(ax)
        ax.tick_params(axis="x", which="both", top=False, labeltop=False,
                       bottom=(r == 1), labelbottom=(r == 1 and c == 0))
        ax.tick_params(axis="y", which="both",
                       left=(c == 0), labelleft=(c == 0 and r == 0),
                       right=(c == 1), labelright=(c == 1 and r == 1))
        for sp in ax.spines.values():
            sp.set_visible(True)
            sp.set_color(lay["frame"])
            sp.set_linewidth(lay["frame_lw"])
        ax.set_facecolor("white")

        # strip
        sax = px_axes(left, stop, lay["width"], lay["strip_h"])
        sax.set_xscale("log")
        sax.set_xlim(0.1, 10000)
        log_axis(sax.xaxis)
        sax.set_yticks([])
        sax.set_facecolor(STRIP_COLOR)
        base_ticks(sax)
        sax.tick_params(axis="x", which="both", bottom=False, labelbottom=False,
                        top=(r == 0), labeltop=(r == 0 and c == 1))
        for sp in sax.spines.values():
            sp.set_color(lay["frame"])
            sp.set_linewidth(lay["frame_lw"])
        sax.text(0.5, 0.47, PANEL_TITLES[i], transform=sax.transAxes,
                 ha="center", va="center", fontsize=13, color="black")

    xl, yl = lay["xlabel_xy"], lay["ylabel_xy"]
    fig.text(xl[0] / W, 1 - xl[1] / H, XLABELS[b], ha="center", va="center",
             fontsize=12.8, color="black")
    fig.text(yl[0] / W, 1 - yl[1] / H, YLABEL, ha="center", va="center",
             rotation=90, fontsize=12.2, color="black")

fig.savefig("out.png", dpi=100, facecolor="white")
